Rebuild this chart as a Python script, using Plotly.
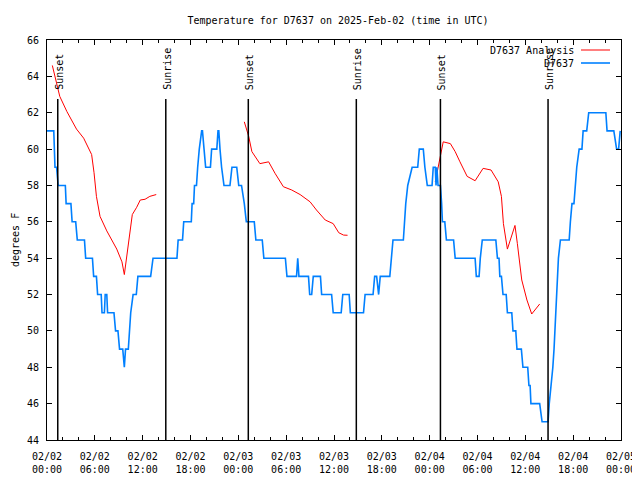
import pandas as pd
import plotly.graph_objects as go

BASE = pd.Timestamp("2025-02-02 00:00")

# Observed temperatures (hours after 2025-02-02 00:00 UTC, deg F)
obs_hours = [0.0, 0.85, 1.0, 1.2, 1.4, 2.3, 2.4, 3.0, 3.15, 3.6, 3.8, 4.7, 4.85, 5.7, 5.85, 6.2,
             6.35, 6.8, 6.9, 7.2, 7.3, 7.5, 7.6, 8.4, 8.6, 8.9, 9.1, 9.5, 9.7, 9.85, 10.2, 10.35,
             10.5, 10.8, 11.2, 11.4, 13.0, 13.3, 16.3, 16.45, 17.0, 17.15, 18.1, 18.2, 18.4, 18.5,
             18.75, 18.9, 19.1, 19.4, 19.5, 19.7, 19.9, 20.1, 20.5, 20.65, 21.3, 21.45, 21.55, 21.7,
             21.9, 22.2, 22.95, 23.2, 23.8, 24.05, 24.4, 24.75, 25.0, 26.0, 26.2, 27.0, 27.2, 29.9,
             30.1, 31.3, 31.45, 31.6, 32.8, 32.95, 33.2, 33.4, 34.3, 34.45, 35.7, 35.9, 36.9, 37.1,
             37.9, 38.05, 39.7, 39.9, 40.9, 41.1, 41.35, 41.6, 41.8, 43.0, 43.2, 43.4, 44.7, 44.85,
             45.0, 45.25, 45.8, 46.5, 46.7, 47.2, 47.4, 47.7, 48.3, 48.45, 48.7, 48.8, 48.9, 49.05,
             49.35, 49.5, 49.6, 49.9, 50.1, 51.0, 51.2, 53.7, 53.85, 54.2, 54.35, 54.6, 56.3, 56.5,
             56.7, 56.8, 57.0, 57.2, 57.6, 57.75, 58.3, 58.45, 58.8, 58.95, 59.5, 59.7, 60.3, 60.45,
             60.6, 60.7, 61.8, 62.1, 62.85, 63.0, 63.25, 63.45, 63.6, 63.7, 63.8, 63.9, 64.0, 64.15,
             64.4, 65.5, 65.65, 65.85, 66.1, 66.25, 66.45, 66.75, 67.1, 67.25, 67.7, 67.95, 70.1,
             70.25, 71.1, 71.45, 71.7, 71.9]
obs_temps = [61, 61, 59, 59, 58, 58, 57, 57, 56, 56, 55, 55, 54, 54, 53, 53,
             52, 52, 51, 51, 52, 52, 51, 51, 50, 50, 49, 49, 48, 49, 49, 50,
             51, 52, 52, 53, 53, 54, 54, 55, 55, 56, 56, 57, 57, 58,
             58, 59, 60, 61, 61, 60, 59, 59, 59, 60, 60, 61, 61, 60,
             59, 58, 58, 59, 59, 58, 58, 57, 56, 56, 55, 55, 54, 54,
             53, 53, 54, 53, 53, 52, 52, 53, 53, 52, 52, 51, 51, 52,
             52, 51, 51, 52, 52, 53, 53, 52, 53, 53, 54, 55, 55, 56,
             57, 58, 59, 59, 60, 60, 59, 58, 58, 59, 59, 58, 59, 58,
             58, 57, 56, 56, 55, 55, 54, 54, 53, 53, 54, 55, 55, 54,
             54, 53, 53, 52, 52, 51, 51, 50, 50, 49, 49, 48, 48, 47,
             47, 46, 46, 45, 45, 46, 47, 48, 49, 50, 51, 52, 53, 54,
             55, 55, 56, 57, 57, 58, 59, 60, 60, 61, 61, 62, 62,
             61, 61, 60, 60, 61]

# Analysis temperatures (three runs; None separates them)
ana_hours = [0.67, 1.2, 1.6, 2.5, 3.7, 4.6, 5.6, 5.9, 6.2, 6.65, 7.5, 8.75, 9.4, 9.7, 10.1, 10.4,
             10.7, 11.25, 11.7, 12.3, 12.9, 13.7, None,
             24.75, 25.3, 25.7, 26.7, 27.8, 28.6, 29.65, 30.7, 31.75, 33.0, 33.8, 34.9, 35.9, 36.6,
             37.2, 37.7, None,
             48.7, 49.4, 49.7, 50.6, 51.2, 51.8, 52.7, 53.7, 54.7, 55.7, 56.6, 57.0, 57.25, 57.75,
             58.7, 59.0, 59.55, 60.2, 60.8, 61.8]
ana_temps = [64.6, 63.6, 62.9, 62.06, 61.1, 60.6, 59.7, 58.7, 57.4, 56.3, 55.5, 54.5, 53.8, 53.1, 54.45, 55.55,
             56.4, 56.8, 57.2, 57.24, 57.4, 57.5, None,
             61.5, 60.7, 59.86, 59.2, 59.3, 58.67, 57.93, 57.75, 57.5, 57.1, 56.65, 56.1, 55.9, 55.4,
             55.27, 55.26, None,
             58.2, 59.7, 60.4, 60.3, 59.86, 59.3, 58.5, 58.26, 58.94, 58.85, 58.2, 57.4, 55.9, 54.5,
             55.8, 54.8, 52.8, 51.7, 50.93, 51.48]

sun_events = ["Sunset", "Sunrise", "Sunset", "Sunrise", "Sunset", "Sunrise"]
sun_hours = [1.35, 14.9, 25.25, 38.8, 49.35, 62.85]

x_tick_hours = [0, 6, 12, 18, 24, 30, 36, 42, 48, 54, 60, 66, 72]
x_tick_labels = ["02/02<br>00:00", "02/02<br>06:00", "02/02<br>12:00", "02/02<br>18:00",
                 "02/03<br>00:00", "02/03<br>06:00", "02/03<br>12:00", "02/03<br>18:00",
                 "02/04<br>00:00", "02/04<br>06:00", "02/04<br>12:00", "02/04<br>18:00",
                 "02/05<br>00:00"]
y_ticks = [44, 46, 48, 50, 52, 54, 56, 58, 60, 62, 64, 66]


def to_time(hs):
    return [None if h is None else BASE + pd.Timedelta(hours=h) for h in hs]


FONT = "DejaVu Sans Mono"
# the page body has an 8px margin, so the figure is 8px smaller and margins shifted
OFF = 8
W, H = 640 - OFF, 480 - OFF
PL, PR, PT, PB = 47, 621, 40, 440  # plot area in window pixels

fig = go.Figure()
fig.add_trace(go.Scatter(x=to_time(ana_hours), y=ana_temps, mode="lines",
                         line=dict(color="#ff0000", width=1), connectgaps=False,
                         name="D7637 Analysis", showlegend=False))
fig.add_trace(go.Scatter(x=to_time(obs_hours), y=obs_temps, mode="lines",
                         line=dict(color="#0080ff", width=1.6),
                         name="D7637", showlegend=False))

for name, h in zip(sun_events, sun_hours):
    t = BASE + pd.Timedelta(hours=h)
    fig.add_shape(type="line", xref="x", yref="y", x0=t, x1=t, y0=44, y1=62.75,
                  line=dict(color="black", width=1.5))
    fig.add_annotation(x=t, xref="x", y=(PB - 92) / (PB - PT), yref="paper", text=name,
                       textangle=-90, showarrow=False, xanchor="center", yanchor="bottom",
                       xshift=1, font=dict(family=FONT, size=10, color="black"))


def px(x):
    return (x - PL) / (PR - PL)


def py(y):
    return (PB - y) / (PB - PT)


# gnuplot-style key: text right-aligned, sample line to the right
key_rows = [("D7637 Analysis", "#ff0000", 1, 50), ("D7637", "#0080ff", 1.6, 63)]
for label, col, w, yy in key_rows:
    fig.add_annotation(x=px(576), xref="paper", y=py(yy), yref="paper", text=label,
                       showarrow=False, xanchor="right", yanchor="middle",
                       font=dict(family=FONT, size=10, color="black"))
    fig.add_shape(type="line", xref="paper", yref="paper", x0=px(581), x1=px(610),
                  y0=py(yy), y1=py(yy), line=dict(color=col, width=w))

# y-axis title
fig.add_annotation(x=px(15), xref="paper", y=0.5, yref="paper", text="degrees F",
                   textangle=-90, showarrow=False, xanchor="center", yanchor="middle",
                   borderpad=0, font=dict(family=FONT, size=10, color="black"))

fig.update_layout(
    width=W, height=H,
    margin=dict(l=PL - OFF, r=640 - PR, t=PT - OFF, b=480 - PB, autoexpand=False),
    paper_bgcolor="white", plot_bgcolor="white",
    font=dict(family=FONT, size=10, color="black"),
    title=dict(text="Temperature for D7637 on 2025-Feb-02 (time in UTC)",
               x=(338 - OFF) / W, xanchor="center", xref="container",
               y=1 - (20 - OFF) / H, yanchor="middle", yref="container",
               font=dict(family=FONT, size=10, color="black")),
    showlegend=False,
)

fig.update_xaxes(
    range=[BASE, BASE + pd.Timedelta(hours=72)],
    tickvals=to_time(x_tick_hours), ticktext=x_tick_labels,
    ticks="inside", ticklen=5, tickcolor="black", tickwidth=1,
    minor=dict(dtick=2 * 3600000, tick0=BASE, ticks="inside", ticklen=3,
               tickcolor="black", tickwidth=1, showgrid=False),
    showline=True, linecolor="black", linewidth=1, mirror="allticks",
    showgrid=False, zeroline=False, automargin=False, ticklabelstandoff=7,
    tickfont=dict(family=FONT, size=10, color="black"),
)
fig.update_yaxes(
    range=[44, 66], tickvals=y_ticks,
    ticks="inside", ticklen=5, tickcolor="black", tickwidth=1,
    showline=True, linecolor="black", linewidth=1, mirror="allticks",
    showgrid=False, zeroline=False, automargin=False, ticklabelstandoff=5,
    tickfont=dict(family=FONT, size=10, color="black"),
)

fig.write_html("out.html")
